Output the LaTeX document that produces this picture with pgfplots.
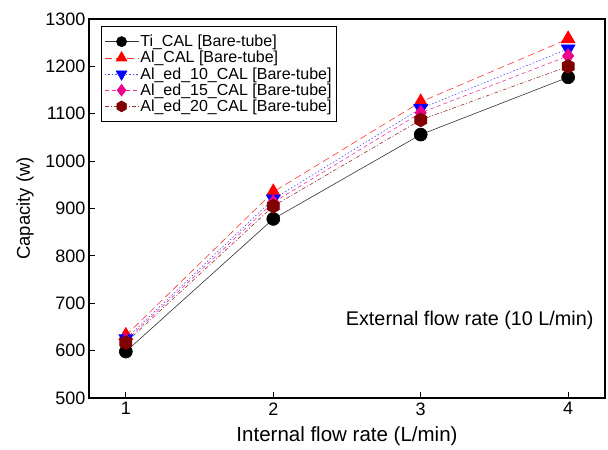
\documentclass[border=0pt]{standalone}
\usepackage{fontspec}
\setmainfont{Liberation Sans}
\usepackage{pgfplots}
\pgfplotsset{compat=1.18}

\pgfdeclareplotmark{hexagon}{%
  \pgfpathmoveto{\pgfqpointpolar{90}{\pgfplotmarksize}}%
  \pgfpathlineto{\pgfqpointpolar{150}{\pgfplotmarksize}}%
  \pgfpathlineto{\pgfqpointpolar{210}{\pgfplotmarksize}}%
  \pgfpathlineto{\pgfqpointpolar{270}{\pgfplotmarksize}}%
  \pgfpathlineto{\pgfqpointpolar{330}{\pgfplotmarksize}}%
  \pgfpathlineto{\pgfqpointpolar{30}{\pgfplotmarksize}}%
  \pgfpathclose
  \pgfusepathqfillstroke}

\definecolor{maroon}{RGB}{128,0,0}

\begin{document}
\begin{tikzpicture}
\begin{axis}[scale only axis, width=516bp, height=379bp,
  xmin=0.75, xmax=4.25, ymin=500, ymax=1300,
  xtick={1,2,3,4}, ytick={500,600,...,1300},
  xtick pos=left, ytick pos=left, tick align=inside,
  major tick length=6bp,
  axis line style={line width=1.2bp},
  tick style={line width=0.9bp, black},
  /pgf/number format/assume math mode=true,
  /pgf/number format/1000 sep={},
  ticklabel style={font=\fontsize{18bp}{20bp}\selectfont},
  xticklabel style={yshift=-1bp},
  xlabel={Internal flow rate (L/min)}, ylabel={Capacity (w)},
  xlabel style={font=\fontsize{20.5bp}{22bp}\selectfont, yshift=-5bp},
  ylabel style={font=\fontsize{18.5bp}{21bp}\selectfont, yshift=5bp},
  clip=false,
  legend cell align=left,
  legend style={at={(0.023,0.981)}, anchor=north west, draw=black,
    line width=0.8bp, font=\fontsize{16bp}{16.5bp}\selectfont,
    inner xsep=3bp, inner ysep=7bp, row sep=0.1bp,
    nodes={inner sep=1.5bp}},
  legend image code/.code={%
    \draw[mark repeat=2, mark phase=2] plot coordinates {(0bp,0bp) (17bp,0bp) (34bp,0bp)};},
  legend image post style={line width=0.6bp, mark size=0.78\pgfplotmarksize},
  every axis plot/.append style={line width=0.6bp},
]
\addplot[black!80, mark=*, mark size=6.5bp, mark options={solid, fill=black, draw=black}]
  coordinates {(1,598) (2,878) (3,1056) (4,1177)};
\addlegendentry{Ti\_CAL [Bare-tube]}
\addplot[red!80, dash pattern=on 7bp off 4bp, mark=triangle*, mark size=8bp, mark options={solid, fill=red, draw=red}]
  coordinates {(1,632) (2,935) (3,1125) (4,1258)};
\addlegendentry{Al\_CAL [Bare-tube]}
\addplot[blue!70, dash pattern=on 1.5bp off 2bp, mark=triangle*, mark size=8bp, mark options={solid, fill=blue, draw=blue, rotate=180}]
  coordinates {(1,625) (2,920) (3,1111) (4,1237)};
\addlegendentry{Al\_ed\_10\_CAL [Bare-tube]}
\addplot[magenta!80, dash pattern=on 4bp off 3bp, mark=diamond*, mark size=7.5bp, mark options={solid, fill=magenta, draw=magenta}]
  coordinates {(1,621) (2,913) (3,1102) (4,1222)};
\addlegendentry{Al\_ed\_15\_CAL [Bare-tube]}
\addplot[maroon!80, dash pattern=on 4bp off 2bp on 1bp off 2bp, mark=hexagon, mark size=7bp, mark options={solid, fill=maroon, draw=maroon}]
  coordinates {(1,617) (2,905) (3,1087) (4,1200)};
\addlegendentry{Al\_ed\_20\_CAL [Bare-tube]}
\node[anchor=east, font=\fontsize{19.8bp}{22bp}\selectfont] at (rel axis cs:0.9845,0.206) {External flow rate (10 L/min)};
\end{axis}
\path (current axis.south west) ++(-89bp,-52bp);
\path (current axis.north east) ++(3bp,19bp);
\end{tikzpicture}
\end{document}
